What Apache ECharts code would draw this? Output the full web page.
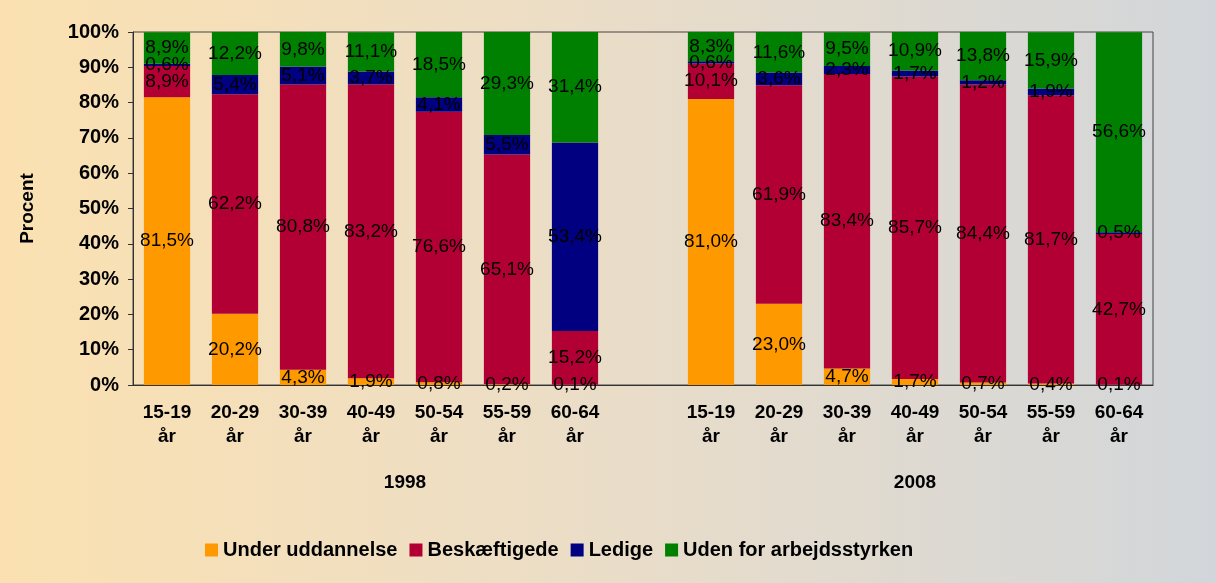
<!DOCTYPE html>
<html>
<head>
<meta charset="utf-8">
<script src="https://cdn.jsdelivr.net/npm/echarts@6/dist/echarts.min.js"></script>
<style>
html,body{margin:0;padding:0;}
#c{width:1216px;height:583px;}
</style>
</head>
<body>
<div id="c"></div>
<script>
const ageGroups = ['15-19\når','20-29\når','30-39\når','40-49\når','50-54\når','55-59\når','60-64\når'];
const years = ['1998','2008'];
const seriesNames = ['Under uddannelse','Beskæftigede','Ledige','Uden for arbejdsstyrken'];
const colors = ['#FF9900','#B20034','#000080','#008000'];

const under1998 = [81.5, 20.2, 4.3, 1.9, 0.8, 0.2, 0.1];
const besk1998  = [8.9, 62.2, 80.8, 83.2, 76.6, 65.1, 15.2];
const ledig1998 = [0.6, 5.4, 5.1, 3.7, 4.1, 5.5, 53.4];
const uden1998  = [8.9, 12.2, 9.8, 11.1, 18.5, 29.3, 31.4];

const under2008 = [81.0, 23.0, 4.7, 1.7, 0.7, 0.4, 0.1];
const besk2008  = [10.1, 61.9, 83.4, 85.7, 84.4, 81.7, 42.7];
const ledig2008 = [0.6, 3.6, 2.3, 1.7, 1.2, 1.9, 0.5];
const uden2008  = [8.3, 11.6, 9.5, 10.9, 13.8, 15.9, 56.6];

const yTicks = [0,10,20,30,40,50,60,70,80,90,100];

const categories = ageGroups.concat([''], ageGroups);
const join = (a, b) => a.concat(['-'], b);
const seriesData = [
  join(under1998, under2008),
  join(besk1998, besk2008),
  join(ledig1998, ledig2008),
  join(uden1998, uden2008)
];

const font = 'Liberation Sans, Arial, sans-serif';
const chart = echarts.init(document.getElementById('c'));
chart.setOption({
  animation: false,
  backgroundColor: {
    type: 'linear', x: 0, y: 0, x2: 1, y2: 0,
    colorStops: [
      {offset: 0, color: '#FBE1B1'},
      {offset: 0.5, color: '#EADDC8'},
      {offset: 1, color: '#D2D6DA'}
    ]
  },
  textStyle: {fontFamily: font},
  grid: {left: 133, right: 63, top: 32, bottom: 198, show: true, borderColor: '#444', borderWidth: 1, backgroundColor: 'transparent'},
  legend: {
    data: seriesNames, left: 200, top: 535, icon: 'rect', itemWidth: 13, itemHeight: 13, itemGap: 12,
    textStyle: {fontFamily: font, fontWeight: 'bold', fontSize: 20, color: '#000'}
  },
  xAxis: [
    {
      type: 'category', data: categories, gridIndex: 0,
      axisLine: {lineStyle: {color: '#333'}},
      axisTick: {show: false},
      axisLabel: {interval: 0, margin: 16, fontFamily: font, fontWeight: 'bold', fontSize: 19, lineHeight: 24, color: '#000'}
    },
    {
      type: 'value', gridIndex: 0, position: 'bottom', offset: 80, min: 0, max: 15, interval: 0.5,
      axisLine: {show: false}, axisTick: {show: false}, splitLine: {show: false},
      axisLabel: {
        margin: 8, fontFamily: font, fontWeight: 'bold', fontSize: 19, color: '#000',
        formatter: v => v === 4 ? years[0] : (v === 11.5 ? years[1] : '')
      }
    }
  ],
  yAxis: {
    type: 'value', min: yTicks[0], max: yTicks[yTicks.length - 1], interval: 10,
    name: 'Procent', nameLocation: 'middle', nameRotate: 90, nameGap: 96,
    nameTextStyle: {fontFamily: font, fontWeight: 'bold', fontSize: 19, color: '#000'},
    axisLine: {show: true, lineStyle: {color: '#333'}},
    axisTick: {show: true, length: 5, lineStyle: {color: '#333'}},
    splitLine: {show: false},
    axisLabel: {margin: 14, fontFamily: font, fontWeight: 'bold', fontSize: 20, color: '#000', formatter: '{value}%'}
  },
  series: seriesNames.map((name, i) => ({
    name: name, type: 'bar', stack: 'total', xAxisIndex: 0,
    barCategoryGap: '32%',
    itemStyle: {color: colors[i]},
    label: {
      show: true, position: 'inside', color: '#000', fontFamily: font, fontSize: 19,
      formatter: p => p.value.toFixed(1).replace('.', ',') + '%'
    },
    data: seriesData[i]
  }))
});
</script>
</body>
</html>
